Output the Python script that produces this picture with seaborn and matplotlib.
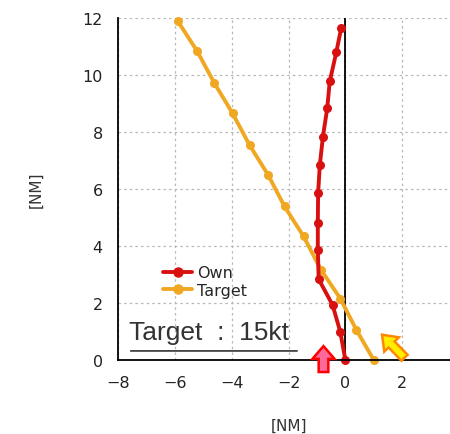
import numpy as np
import pandas as pd
import matplotlib
matplotlib.use("Agg")
import matplotlib.pyplot as plt
import seaborn as sns
from matplotlib.patches import FancyArrow
from matplotlib.lines import Line2D

# ---- data ----
own_x = [0.0, -0.18, -0.45, -0.94, -0.97, -0.97, -0.96, -0.90, -0.79, -0.64, -0.55, -0.32, -0.15]
own_y = [0.0, 0.99, 1.93, 2.84, 3.87, 4.80, 5.85, 6.84, 7.84, 8.83, 9.78, 10.80, 11.64]
tgt_x = [1.00, 0.39, -0.18, -0.86, -1.47, -2.14, -2.72, -3.37, -3.97, -4.61, -5.22, -5.90]
tgt_y = [0.0, 1.05, 2.16, 3.17, 4.34, 5.39, 6.50, 7.54, 8.66, 9.72, 10.85, 11.90]
series_names = ["Own", "Target"]
xticks = [-8, -6, -4, -2, 0, 2]
yticks = [0, 2, 4, 6, 8, 10, 12]
annotation_text = "Target  :  15kt"
axis_label = "[NM]"

RED = "#d81010"
ORANGE = "#f0a822"

df = pd.concat([
    pd.DataFrame({"x": own_x, "y": own_y, "ship": series_names[0]}),
    pd.DataFrame({"x": tgt_x, "y": tgt_y, "ship": series_names[1]}),
], ignore_index=True)

sns.set_style("white")
plt.rcParams["font.family"] = ["DejaVu Sans"]

fig = plt.figure(figsize=(4.5, 4.35), dpi=100)
ax = fig.add_axes([0.2622, 0.170, 0.758, 0.786])

sns.lineplot(data=df, x="x", y="y", hue="ship", sort=False,
             palette={series_names[0]: RED, series_names[1]: ORANGE},
             hue_order=[series_names[1], series_names[0]],
             marker="o", markersize=6.5, markeredgewidth=0, linewidth=2.8,
             ax=ax, legend=False, estimator=None, clip_on=False)

ax.set_xlim(-8, 4)
ax.set_ylim(0, 12)
ax.set_xticks(xticks)
ax.set_yticks(yticks)
ax.set_xticklabels([str(t).replace("-", "\u2212") for t in xticks], fontsize=11.5, color="#222222")
ax.set_yticklabels([str(t) for t in yticks], fontsize=11.5, color="#222222")
ax.grid(True, color="#b8b8b8", linestyle=(0, (2, 2.5)), linewidth=0.9)
ax.axvline(4, color="#b8b8b8", linestyle=(0, (2, 2.5)), linewidth=0.9, zorder=0)
ax.set_axisbelow(True)

for s in ["top", "right"]:
    ax.spines[s].set_visible(False)
ax.spines["left"].set_color("black")
ax.spines["left"].set_linewidth(1.3)
ax.spines["bottom"].set_color("black")
ax.spines["bottom"].set_linewidth(1.3)
ax.axvline(0, color="black", linewidth=1.3, zorder=1)
ax.tick_params(axis="both", direction="out", length=6, width=1.3, color="black", pad=5)

ax.set_xlabel(axis_label, fontsize=11, color="#333333", labelpad=20)
ax.set_ylabel(axis_label, fontsize=11, color="#333333", labelpad=28)

handles = [Line2D([], [], color=RED, marker="o", markersize=6.5, linewidth=2.8),
           Line2D([], [], color=ORANGE, marker="o", markersize=6.5, linewidth=2.8)]
ax.legend(handles, series_names, loc="upper left", bbox_to_anchor=(0.10, 0.31),
          frameon=False, fontsize=11.5, handlelength=1.8, handletextpad=0.3,
          labelspacing=0.15, borderpad=0.2)

ax.text(-7.62, 0.98, annotation_text, fontsize=19, color="#333333", va="center", ha="left",
        family=["Liberation Sans", "DejaVu Sans"])
ax.annotate("", xy=(-1.6, 0.32), xytext=(-7.65, 0.32),
            arrowprops=dict(arrowstyle="-", color="#333333", lw=1.2))

ax.add_patch(FancyArrow(-0.77, -0.42, 0, 0.91, width=0.34, head_width=0.78, head_length=0.45,
                        facecolor="#ff6a9a", edgecolor="#ff0000", linewidth=1.8,
                        clip_on=False, zorder=5, length_includes_head=True))
ax.add_patch(FancyArrow(2.08, 0.08, -0.79, 0.81, width=0.3, head_width=0.72, head_length=0.48,
                        facecolor="#ffee00", edgecolor="#ff8800", linewidth=1.8,
                        clip_on=False, zorder=5, length_includes_head=True))

fig.savefig("out.png", dpi=100)
